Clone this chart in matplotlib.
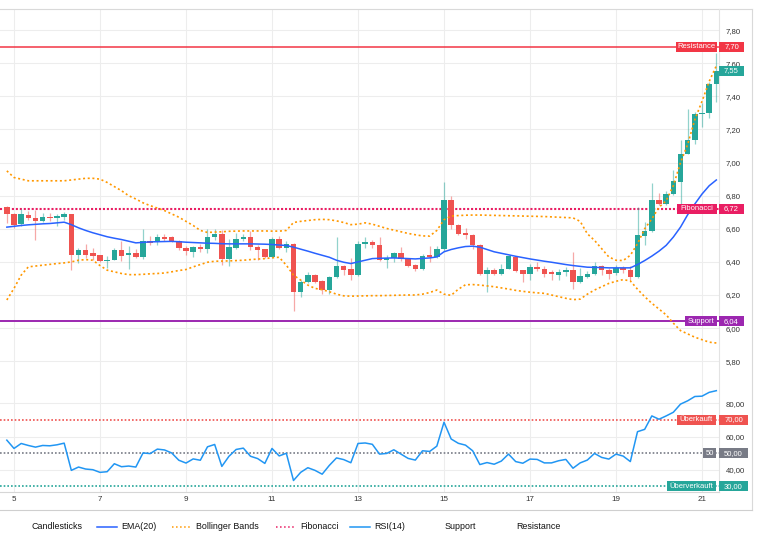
import numpy as np
import matplotlib
matplotlib.use("Agg")
import matplotlib.pyplot as plt
from matplotlib.lines import Line2D
from matplotlib.patches import Rectangle

plt.rcParams['font.family'] = ['Liberation Sans', 'DejaVu Sans']

# 4h candles, first one on day 4 at 20:00
opens = [6.731, 6.691, 6.626, 6.683, 6.663, 6.646, 6.671, 6.667, 6.671, 6.687,
         6.440, 6.471, 6.451, 6.440, 6.404, 6.412, 6.469, 6.440, 6.451, 6.430,
         6.529, 6.521, 6.552, 6.549, 6.529, 6.481, 6.461, 6.491, 6.475, 6.549,
         6.566, 6.420, 6.485, 6.539, 6.552, 6.491, 6.475, 6.430, 6.541, 6.485,
         6.509, 6.216, 6.279, 6.323, 6.287, 6.232, 6.309, 6.378, 6.358, 6.319,
         6.511, 6.521, 6.505, 6.410, 6.424, 6.455, 6.420, 6.380, 6.360, 6.444,
         6.428, 6.475, 6.772, 6.622, 6.572, 6.564, 6.505, 6.329, 6.354, 6.329,
         6.360, 6.430, 6.350, 6.329, 6.368, 6.360, 6.337, 6.323, 6.339, 6.354,
         6.277, 6.309, 6.329, 6.378, 6.350, 6.333, 6.364, 6.350, 6.309, 6.556,
         6.586, 6.776, 6.748, 6.808, 6.883, 7.051, 7.139, 7.291, 7.301, 7.475]
highs = [6.737, 6.697, 6.717, 6.707, 6.711, 6.697, 6.697, 6.691, 6.703, 6.691,
         6.485, 6.509, 6.485, 6.444, 6.438, 6.485, 6.529, 6.495, 6.475, 6.596,
         6.556, 6.570, 6.570, 6.556, 6.535, 6.495, 6.495, 6.509, 6.596, 6.596,
         6.590, 6.539, 6.576, 6.566, 6.586, 6.505, 6.480, 6.549, 6.556, 6.529,
         6.515, 6.293, 6.337, 6.329, 6.290, 6.313, 6.549, 6.384, 6.424, 6.525,
         6.552, 6.535, 6.552, 6.444, 6.458, 6.489, 6.424, 6.388, 6.448, 6.495,
         6.495, 6.885, 6.798, 6.630, 6.602, 6.568, 6.510, 6.368, 6.364, 6.388,
         6.440, 6.436, 6.354, 6.390, 6.398, 6.378, 6.350, 6.360, 6.368, 6.459,
         6.364, 6.343, 6.398, 6.384, 6.364, 6.380, 6.374, 6.374, 6.733, 6.640,
         6.877, 6.816, 6.826, 6.958, 7.135, 7.321, 7.307, 7.362, 7.489, 7.665]
lows = [6.636, 6.606, 6.616, 6.651, 6.531, 6.642, 6.646, 6.616, 6.651, 6.350,
        6.394, 6.424, 6.414, 6.400, 6.364, 6.412, 6.404, 6.360, 6.424, 6.420,
        6.505, 6.505, 6.525, 6.520, 6.470, 6.444, 6.430, 6.461, 6.455, 6.535,
        6.380, 6.374, 6.475, 6.525, 6.469, 6.414, 6.424, 6.424, 6.475, 6.461,
        6.105, 6.186, 6.273, 6.273, 6.208, 6.208, 6.305, 6.323, 6.293, 6.313,
        6.485, 6.481, 6.408, 6.364, 6.400, 6.408, 6.368, 6.348, 6.354, 6.400,
        6.424, 6.465, 6.596, 6.562, 6.539, 6.475, 6.323, 6.218, 6.323, 6.323,
        6.355, 6.338, 6.277, 6.293, 6.343, 6.309, 6.289, 6.293, 6.313, 6.236,
        6.273, 6.301, 6.323, 6.323, 6.297, 6.323, 6.333, 6.293, 6.303, 6.500,
        6.580, 6.741, 6.741, 6.802, 6.735, 7.049, 7.115, 7.216, 7.267, 7.368]
closes = [6.691, 6.622, 6.687, 6.663, 6.646, 6.671, 6.663, 6.675, 6.687, 6.440,
          6.471, 6.444, 6.438, 6.404, 6.414, 6.469, 6.438, 6.451, 6.432, 6.529,
          6.515, 6.552, 6.541, 6.525, 6.481, 6.465, 6.489, 6.479, 6.552, 6.566,
          6.420, 6.489, 6.541, 6.552, 6.489, 6.471, 6.430, 6.541, 6.481, 6.509,
          6.216, 6.279, 6.323, 6.279, 6.232, 6.309, 6.378, 6.354, 6.319, 6.509,
          6.521, 6.501, 6.410, 6.424, 6.455, 6.420, 6.374, 6.360, 6.438, 6.430,
          6.479, 6.772, 6.622, 6.570, 6.560, 6.505, 6.329, 6.354, 6.329, 6.360,
          6.434, 6.343, 6.329, 6.368, 6.360, 6.329, 6.329, 6.341, 6.354, 6.277,
          6.313, 6.329, 6.378, 6.350, 6.329, 6.364, 6.350, 6.309, 6.562, 6.586,
          6.776, 6.748, 6.808, 6.887, 7.049, 7.139, 7.291, 7.301, 7.475, 7.554]

ema20 = [6.610, 6.615, 6.620, 6.624, 6.627, 6.630, 6.632, 6.636, 6.640, 6.625,
         6.606, 6.590, 6.576, 6.564, 6.552, 6.543, 6.535, 6.525, 6.515, 6.518,
         6.521, 6.522, 6.523, 6.524, 6.522, 6.519, 6.517, 6.515, 6.513, 6.512,
         6.510, 6.509, 6.509, 6.509, 6.509, 6.508, 6.507, 6.505, 6.502, 6.499,
         6.489, 6.477, 6.465, 6.452, 6.440, 6.428, 6.410, 6.398, 6.390, 6.400,
         6.410, 6.420, 6.422, 6.423, 6.424, 6.422, 6.420, 6.418, 6.421, 6.424,
         6.430, 6.461, 6.475, 6.485, 6.493, 6.495, 6.489, 6.475, 6.461, 6.452,
         6.443, 6.434, 6.426, 6.418, 6.411, 6.404, 6.398, 6.391, 6.384, 6.378,
         6.373, 6.368, 6.367, 6.366, 6.364, 6.364, 6.364, 6.364, 6.384, 6.408,
         6.435, 6.465, 6.500, 6.550, 6.610, 6.685, 6.750, 6.810, 6.860, 6.895]
bb_upper = [6.950, 6.910, 6.900, 6.890, 6.890, 6.890, 6.890, 6.890, 6.890, 6.895,
            6.900, 6.905, 6.905, 6.900, 6.880, 6.855, 6.830, 6.800, 6.780, 6.757,
            6.740, 6.725, 6.710, 6.690, 6.670, 6.645, 6.620, 6.590, 6.578, 6.580,
            6.582, 6.585, 6.586, 6.587, 6.587, 6.587, 6.587, 6.586, 6.586, 6.590,
            6.638, 6.645, 6.650, 6.655, 6.657, 6.655, 6.648, 6.638, 6.625, 6.628,
            6.636, 6.628, 6.615, 6.602, 6.592, 6.582, 6.572, 6.564, 6.557, 6.556,
            6.590, 6.655, 6.677, 6.680, 6.682, 6.683, 6.683, 6.682, 6.681, 6.680,
            6.679, 6.678, 6.677, 6.676, 6.675, 6.674, 6.672, 6.670, 6.668, 6.666,
            6.645, 6.570, 6.530, 6.480, 6.430, 6.410, 6.408, 6.440, 6.510, 6.600,
            6.660, 6.730, 6.770, 6.860, 7.000, 7.110, 7.260, 7.370, 7.490, 7.585]
bb_lower = [6.170, 6.240, 6.320, 6.370, 6.375, 6.380, 6.385, 6.390, 6.394, 6.400,
            6.410, 6.414, 6.410, 6.378, 6.350, 6.340, 6.330, 6.323, 6.323, 6.325,
            6.328, 6.330, 6.333, 6.340, 6.348, 6.354, 6.370, 6.384, 6.398, 6.404,
            6.405, 6.406, 6.408, 6.410, 6.414, 6.417, 6.420, 6.425, 6.428, 6.380,
            6.320, 6.290, 6.260, 6.240, 6.232, 6.220, 6.205, 6.195, 6.193, 6.194,
            6.195, 6.196, 6.196, 6.197, 6.198, 6.199, 6.200, 6.200, 6.205, 6.215,
            6.230, 6.205, 6.198, 6.235, 6.262, 6.263, 6.260, 6.255, 6.250, 6.243,
            6.236, 6.228, 6.222, 6.217, 6.213, 6.210, 6.200, 6.190, 6.180, 6.172,
            6.175, 6.205, 6.230, 6.250, 6.270, 6.283, 6.293, 6.285, 6.235, 6.190,
            6.150, 6.115, 6.080, 6.030, 5.985, 5.965, 5.945, 5.930, 5.915, 5.910]
rsi14 = [57.8, 52.8, 55.8, 54.6, 53.6, 54.6, 54.4, 55.0, 56.0, 39.6,
         41.6, 40.4, 40.0, 38.4, 38.8, 43.6, 41.8, 42.2, 41.6, 50.1,
         49.7, 52.4, 51.9, 50.1, 45.7, 44.0, 46.5, 45.7, 53.8, 55.2,
         42.0, 48.1, 52.2, 53.0, 48.1, 46.7, 43.8, 52.8, 48.3, 49.9,
         33.5, 38.4, 41.2, 39.6, 37.3, 42.6, 47.1, 46.1, 44.2, 55.8,
         56.1, 55.3, 49.4, 49.8, 52.0, 49.4, 46.8, 45.8, 51.4, 51.0,
         54.2, 68.6, 58.5, 55.9, 54.8, 51.4, 43.1, 44.3, 43.3, 45.2,
         49.4, 44.9, 43.9, 46.4, 46.2, 44.1, 44.1, 45.4, 46.2, 40.9,
         44.1, 45.8, 49.8, 47.4, 46.4, 49.4, 48.2, 44.9, 62.9, 64.3,
         72.4, 70.4, 72.4, 74.6, 79.5, 81.5, 84.1, 84.3, 86.6, 87.6]

resistance = 7.70
fibonacci = 6.72
support = 6.04
overbought = 70
midline = 50
oversold = 30
day_ticks = [5, 7, 9, 11, 13, 15, 17, 19, 21]
price_ticks = [5.8, 6.0, 6.2, 6.4, 6.6, 6.8, 7.0, 7.2, 7.4, 7.6, 7.8]
rsi_ticks = [40, 60, 80]

UP = '#26a69a'
DOWN = '#ef5350'
GRID = '#ededed'
W, H = 763, 547


def fy(y):
    return 1 - y / H


def fmt(v, _=None):
    return f"{v:.2f}".replace('.', ',')


fig = plt.figure(figsize=(W / 100, H / 100), dpi=100)
ax = fig.add_axes([0, fy(374), 719 / W, (374 - 9) / H])
ax_rsi = fig.add_axes([0, fy(492), 719 / W, (492 - 374) / H], sharex=ax)

o, h, l, c = map(np.array, (opens, highs, lows, closes))
t = 4 + 20 / 24 + np.arange(len(o)) * 4 / 24
colors = np.where(c >= o, UP, DOWN)

ax.vlines(t, l, h, colors=colors, alpha=0.5, lw=0.9, zorder=2)
ax.bar(t, np.maximum(np.abs(c - o), 0.004), bottom=np.minimum(o, c),
       width=0.76 * 4 / 24, color=colors, linewidth=0, zorder=3)
ax.plot(t, ema20, color='#2962ff', lw=1.1, zorder=4)
ax.plot(t, bb_upper, color='#ff9800', lw=1.2, ls=(0, (1.2, 1.6)), zorder=4)
ax.plot(t, bb_lower, color='#ff9800', lw=1.2, ls=(0, (1.2, 1.6)), zorder=4)
ax.axhline(resistance, color='#f23645', lw=1.1, zorder=1)
ax.axhline(fibonacci, color='#e91e63', lw=1.5, ls=(0, (1, 0.9)), zorder=1)
ax.axhline(support, color='#9c27b0', lw=1.4, zorder=1)

ax_rsi.plot(t, rsi14, color='#2196f3', lw=1.1, zorder=3)
ax_rsi.axhline(overbought, color='#ef5350', lw=1.2, ls=(0, (1, 1.2)))
ax_rsi.axhline(midline, color='#787b86', lw=1.2, ls=(0, (1, 1.2)))
ax_rsi.axhline(oversold, color='#26a69a', lw=1.2, ls=(0, (1, 1.2)))

ax.set_xlim(5 - 14 / 43, 5 + 705 / 43)
ax.set_ylim(5.7227, 7.928)
ax_rsi.set_ylim(26.57, 97.65)

for a, ticks in ((ax, price_ticks), (ax_rsi, rsi_ticks)):
    a.set_xticks(day_ticks)
    a.set_yticks(ticks)
    a.yaxis.tick_right()
    a.yaxis.set_major_formatter(fmt)
    a.tick_params(axis='y', length=0, pad=5, labelsize=5.6, labelcolor='#333333')
    a.tick_params(axis='x', length=0, pad=3, labelsize=5.8, labelcolor='#333333')
    a.grid(True, color=GRID, lw=0.8, zorder=0)
    a.set_axisbelow(True)
    for s in a.spines.values():
        s.set_visible(False)
ax.tick_params(axis='x', labelbottom=False)
ax_rsi.set_xticklabels([str(d) for d in day_ticks])

# frame lines
for x0, y0, x1, y1, col in ((0, 9, 752, 9, '#d9d9d9'), (752, 9, 752, 510, '#d9d9d9'),
                            (0, 510, 752, 510, '#cfcfcf'), (719, 9, 719, 492, '#e3e3e3'),
                            (0, 492, 719, 492, '#d6d6d6')):
    fig.add_artist(Line2D([x0 / W, x1 / W], [fy(y0), fy(y1)], color=col, lw=0.8,
                          transform=fig.transFigure))


def tag(a, y, label, color, x0, x1):
    yd = a.transData.transform((0, y))[1]
    fig.add_artist(Rectangle((x0 / W, (yd - 5) / H), (x1 - x0) / W, 10 / H,
                             transform=fig.transFigure, fc=color, ec='none', zorder=5))
    fig.text((x0 + x1) / 2 / W, yd / H, label, color='white', ha='center',
             va='center', fontsize=5.5, zorder=6)


tag(ax, resistance, 'Resistance', '#f23645', 676, 717)
tag(ax, resistance, fmt(resistance), '#f23645', 719, 744)
tag(ax, closes[-1], fmt(closes[-1]), UP, 719, 744)
tag(ax, fibonacci, 'Fibonacci', '#e91e63', 677, 717)
tag(ax, fibonacci, fmt(fibonacci), '#e91e63', 719, 744)
tag(ax, support, 'Support', '#9c27b0', 685, 717)
tag(ax, support, fmt(support), '#9c27b0', 719, 744)
tag(ax_rsi, overbought, 'Überkauft', '#ef5350', 677, 716)
tag(ax_rsi, overbought, fmt(overbought), '#ef5350', 719, 748)
tag(ax_rsi, midline, '50', '#787b86', 703, 716)
tag(ax_rsi, midline, fmt(midline), '#787b86', 719, 748)
tag(ax_rsi, oversold, 'Überverkauft', UP, 667, 716)
tag(ax_rsi, oversold, fmt(oversold), UP, 719, 748)

# legend row
legend_items = [('Candlesticks', None, None, 32),
                ('EMA(20)', '#2962ff', '-', 97),
                ('Bollinger Bands', '#ff9800', ':', 172),
                ('Fibonacci', '#e91e63', ':', 276),
                ('RSI(14)', '#2196f3', '-', 350),
                ('Support', None, None, 445),
                ('Resistance', None, None, 516)]
ly = fy(526.5)
for label, col, ls, x in legend_items:
    if col is None:
        fig.text(x / W, ly, label, fontsize=6.4, va='center', color='#111111')
    else:
        fig.add_artist(Line2D([x / W, (x + 20) / W], [ly, ly], color=col, lw=1.1,
                              ls=ls, transform=fig.transFigure))
        fig.text((x + 24) / W, ly, label, fontsize=6.4, va='center', color='#111111')

fig.savefig('out.png', dpi=100, facecolor='white')
